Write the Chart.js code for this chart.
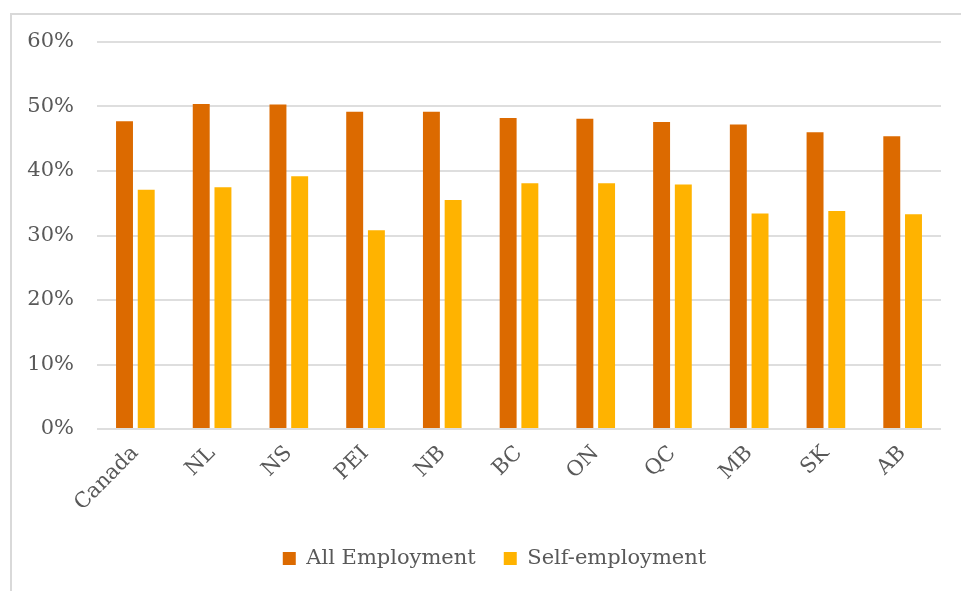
<!DOCTYPE html>
<html>
<head>
<meta charset="utf-8">
<script src="https://cdn.jsdelivr.net/npm/chart.js@4"></script>
<style>
  html, body { margin: 0; padding: 0; background: #fff; overflow: hidden; }
  #frame { position: absolute; left: 10px; top: 13px; width: 960px; height: 600px;
           border-left: 2px solid #d9d9d9; border-top: 2px solid #d9d9d9; }
  #wrap { position: absolute; left: 0; top: 0; width: 961px; height: 591px; }
</style>
</head>
<body>
<div id="frame"></div>
<div id="wrap"><canvas id="chart" width="961" height="591"></canvas></div>
<script>
// Share of employment, by province
const regions = ['Canada', 'NL', 'NS', 'PEI', 'NB', 'BC', 'ON', 'QC', 'MB', 'SK', 'AB'];
const allEmployment  = [47.7, 50.4, 50.3, 49.2, 49.2, 48.2, 48.1, 47.6, 47.2, 46.0, 45.4];
const selfEmployment = [37.1, 37.5, 39.2, 30.8, 35.5, 38.1, 38.1, 37.9, 33.4, 33.8, 33.3];
const yTicks = [0, 10, 20, 30, 40, 50, 60];

const FONT = 'DejaVu Serif';
const GREY = '#595959';

// nudge the centred legend a bit to the right, like the original
const legendShift = {
  id: 'legendShift',
  afterLayout(chart) {
    chart.legend.left += 24;
    chart.legend.right += 24;
  },
};

new Chart(document.getElementById('chart'), {
  type: 'bar',
  data: {
    labels: regions,
    datasets: [
      { label: 'All Employment', data: allEmployment, backgroundColor: '#dc6a00',
        categoryPercentage: 0.566, barPercentage: 0.78 },
      { label: 'Self-employment', data: selfEmployment, backgroundColor: '#ffb300',
        categoryPercentage: 0.566, barPercentage: 0.78 },
    ],
  },
  plugins: [legendShift],
  options: {
    responsive: false,
    animation: false,
    layout: { padding: { left: 0, right: 20, top: 42, bottom: 12 } },
    plugins: {
      tooltip: { enabled: false },
      legend: {
        position: 'bottom',
        labels: {
          boxWidth: 13, boxHeight: 13, padding: 28,
          color: GREY, font: { family: FONT, size: 21 },
        },
      },
    },
    scales: {
      x: {
        grid: { display: false },
        border: { display: false },
        ticks: {
          color: GREY, font: { family: FONT, size: 21 },
          minRotation: 45, maxRotation: 45, padding: 4,
        },
        afterFit: (s) => { s.height = 91; },
      },
      y: {
        min: 0, max: 60,
        afterBuildTicks: (s) => { s.ticks = yTicks.map(v => ({ value: v })); },
        grid: { color: '#dedede', lineWidth: 2, drawTicks: false },
        border: { display: false },
        ticks: {
          color: GREY, font: { family: FONT, size: 21 }, padding: 23,
          callback: (v) => v + '%',
        },
        afterFit: (s) => { s.width = 97; },
      },
    },
  },
});
</script>
</body>
</html>
